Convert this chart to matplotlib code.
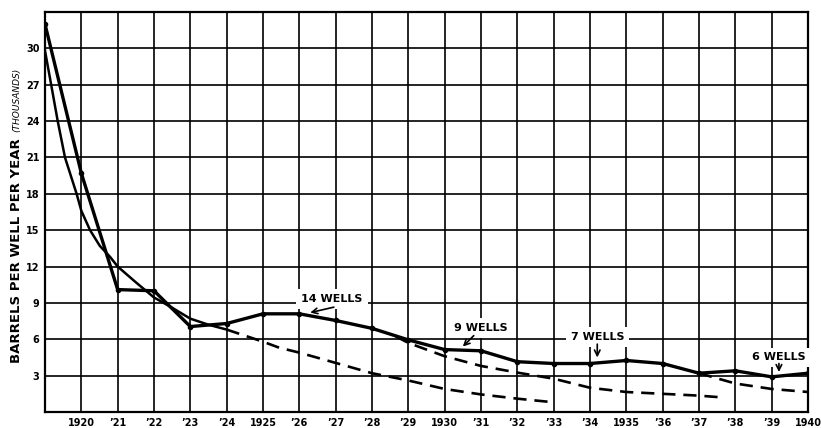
import numpy as np
import matplotlib.pyplot as plt

# actual production, barrels per well per year (thousands)
years = list(range(1919, 1941))
actual = [32.0, 19.7, 10.1, 10.0, 7.05, 7.3, 8.1, 8.1, 7.55, 6.9, 5.95,
          5.15, 5.05, 4.15, 4.0, 4.0, 4.25, 4.0, 3.2, 3.4, 2.9, 3.2]

# first decline curve, drawn solid up to 1924
curve1_x = [1919, 1919.17, 1919.35, 1919.55, 1919.87, 1920, 1920.24, 1920.51,
            1920.79, 1921, 1921.5, 1922, 1922.5, 1923, 1923.5, 1924]
curve1_y = [29.8, 27.0, 24.0, 21.0, 18.0, 16.6, 15.0, 13.7,
            12.8, 12.0, 10.7, 9.45, 8.6, 7.7, 7.2, 6.8]
# its projection (dashed)
proj1_x = [1924, 1925, 1925.45, 1926, 1927, 1928, 1929, 1930, 1931, 1932, 1933]
proj1_y = [6.8, 5.8, 5.3, 4.9, 4.05, 3.2, 2.6, 1.9, 1.45, 1.1, 0.8]

# second and third projections (dashed)
proj2_x = [1928.65, 1929, 1930, 1931, 1932, 1933, 1934, 1935, 1936, 1937, 1937.65]
proj2_y = [6.25, 5.7, 4.6, 3.8, 3.25, 2.75, 2.0, 1.65, 1.5, 1.35, 1.2]
proj3_x = [1937, 1938, 1939, 1940]
proj3_y = [3.2, 2.35, 1.9, 1.65]

xlabels = ['1920', '’21', '’22', '’23', '’24', '1925', '’26', '’27', '’28', '’29',
           '1930', '’31', '’32', '’33', '’34', '1935', '’36', '’37', '’38', '’39', '1940']
yticks = [3, 6, 9, 12, 15, 18, 21, 24, 27, 30]

# well count notes: text, text position, arrow start, arrow tip
notes = [('14 WELLS', (1926.9, 9.3), (1926.95, 8.65), (1926.3, 8.2)),
         ('9 WELLS', (1931.0, 6.9), (1930.8, 6.3), (1930.5, 5.4)),
         ('7 WELLS', (1934.2, 6.2), (1934.2, 5.6), (1934.2, 4.5)),
         ('6 WELLS', (1939.2, 4.5), (1939.2, 4.0), (1939.2, 3.3))]

plt.rcParams['font.family'] = 'DejaVu Sans'
fig = plt.figure(figsize=(8.21, 4.28), dpi=100)
ax = fig.add_axes([45 / 821, 1 - 412 / 428, 763 / 821, 400 / 428])

ax.set_xlim(1919, 1940)
ax.set_ylim(0, 33)
ax.set_xticks(range(1920, 1941))
ax.set_xticklabels(xlabels, fontsize=7, fontweight='bold')
ax.set_yticks(yticks)
ax.set_yticklabels([str(v) for v in yticks], fontsize=7, fontweight='bold')
ax.tick_params(length=0, pad=4)
ax.grid(True, color='black', linewidth=1.2)
for s in ax.spines.values():
    s.set_linewidth(1.6)

ax.plot(curve1_x, curve1_y, color='black', lw=1.8, zorder=3)
ax.plot(proj1_x, proj1_y, color='black', lw=1.9, ls=(0, (5, 3)), zorder=3)
ax.plot(proj2_x, proj2_y, color='black', lw=1.9, ls=(0, (5, 3)), zorder=3)
ax.plot(proj3_x, proj3_y, color='black', lw=1.9, ls=(0, (5, 3)), zorder=3)
ax.plot(years, actual, color='black', lw=2.4, marker='o', ms=3, zorder=4)

for txt, pos, start, tip in notes:
    ax.text(pos[0], pos[1], txt, ha='center', va='center', fontsize=8,
            fontweight='bold', zorder=5,
            bbox=dict(facecolor='white', edgecolor='none', pad=3.5))
    ax.annotate('', xy=tip, xytext=start, zorder=6,
                arrowprops=dict(arrowstyle='->', color='black', lw=1.2,
                                shrinkA=0, shrinkB=0))

fig.text(17 / 821, 1 - 363 / 428, 'BARRELS PER WELL PER YEAR', rotation=90,
         ha='center', va='bottom', fontsize=9.5, fontweight='bold')
fig.text(17 / 821, 1 - 132 / 428, '(THOUSANDS)', rotation=90,
         ha='center', va='bottom', fontsize=6.5, fontstyle='italic')

fig.savefig('out.png', dpi=100)
